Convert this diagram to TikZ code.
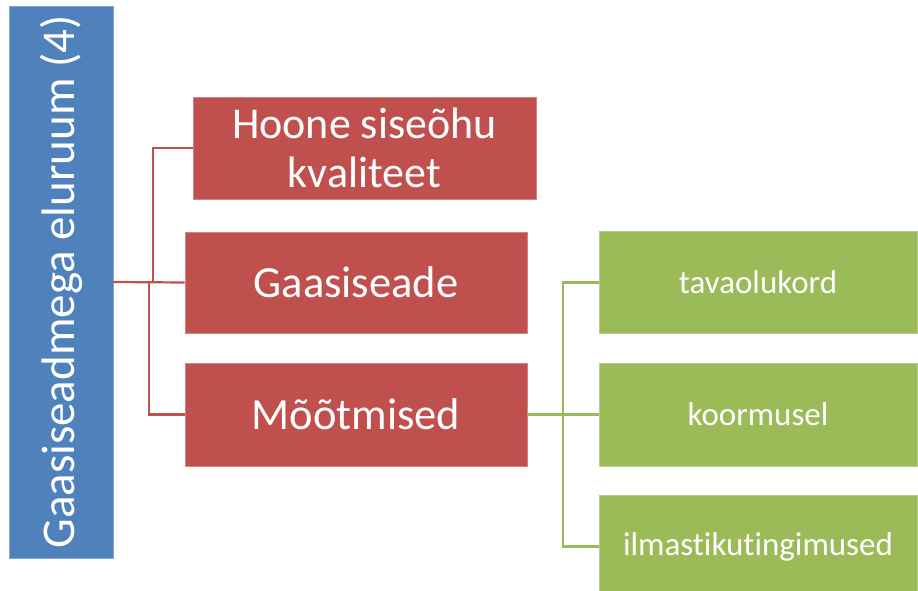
\documentclass[tikz,border=0pt]{standalone}
\usepackage{fontspec}
\setmainfont[Ligatures=NoCommon]{Carlito}
\usetikzlibrary{calc}
\definecolor{sblue}{HTML}{4F81BD}
\definecolor{sred}{HTML}{C0504D}
\definecolor{sgreen}{HTML}{9BBB59}
\tikzset{
  box/.style={rectangle, inner sep=0pt, text=white, align=center, line width=0.8pt},
  bluebox/.style={box, fill=sblue, draw=sblue!70!white, font=\fontsize{47}{54}\selectfont},
  redbox/.style={box, fill=sred, draw=sred!70!white, minimum width=342, font=\fontsize{44.5}{50}\selectfont},
  greenbox/.style={box, fill=sgreen, draw=sgreen!70!white, minimum width=318, minimum height=102, font=\fontsize{33}{40}\selectfont},
  redlink/.style={draw=sred, line width=2.2pt},
  greenlink/.style={draw=sgreen, line width=2.2pt}
}
\begin{document}
\begin{tikzpicture}[x=1pt,y=-1pt]
\useasboundingbox (0,0) rectangle (918,591);
\clip (0,0) rectangle (918,591);
\fill[white] (0,0) rectangle (918,591);

\node[bluebox, rotate=90, minimum width=552, minimum height=104] (root) at (61,282) {Gaasiseadmega eluruum (4)};

\node[redbox, minimum width=343, minimum height=102, font=\fontsize{44}{49}\selectfont] (r1) at (364.5,148) {Hoone siseõhu\\kvaliteet};
\node[redbox, minimum height=101] (r2) at (356,282.5) {Gaasiseade};
\node[redbox, minimum height=103] (r3) at (356,414.5) {Mõõtmised};

\node[greenbox] (g1) at (758,282.5) {tavaolukord};
\node[greenbox, minimum height=103] (g2) at (758,414.5) {koormusel};
\node[greenbox, minimum height=103] (g3) at (758,546.5) {ilmastikutingimused};

\coordinate (m1) at ($(root.south)!0.5!(r1.west)$);
\coordinate (m2) at ($(root.south)!0.5!(r2.west)$);
\draw[redlink] (root.south) -- (m1 |- root.south) |- (r1.west);
\draw[redlink] (root.south) -- (r2.west);
\draw[redlink] (m2 |- root.south) |- (r3.west);

\coordinate (n1) at ($(r3.east)!0.5!(g1.west |- r3.east)$);
\draw[greenlink] (r3.east) -- (g2.west);
\draw[greenlink] (n1) |- (g1.west);
\draw[greenlink] (n1) |- (g3.west);
\end{tikzpicture}
\end{document}
